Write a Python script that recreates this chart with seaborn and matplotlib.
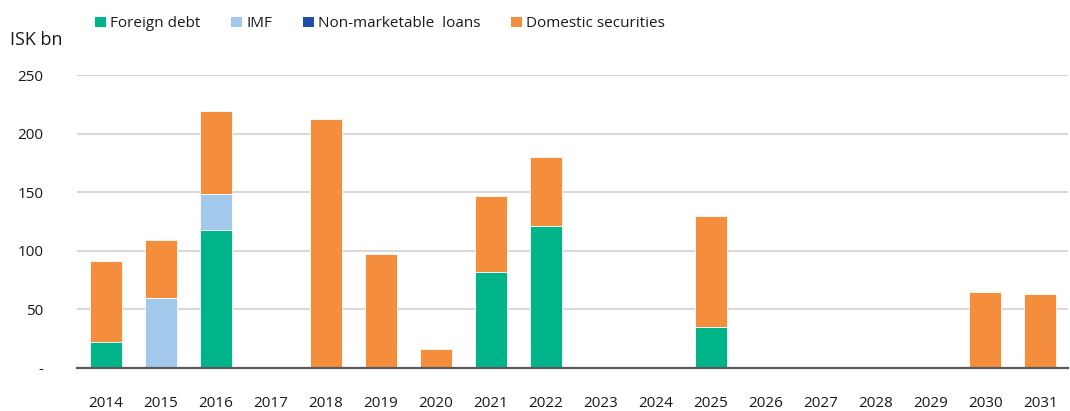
import matplotlib
matplotlib.use("Agg")
import matplotlib.pyplot as plt
from matplotlib.patches import Patch
import numpy as np
import pandas as pd
import seaborn as sns

years = ["2014", "2015", "2016", "2017", "2018", "2019", "2020", "2021", "2022",
         "2023", "2024", "2025", "2026", "2027", "2028", "2029", "2030", "2031"]
foreign_debt = [22.5, 0, 117.5, 0, 0, 0, 0, 82, 121, 0, 0, 35, 0, 0, 0, 0, 0, 0]
imf = [0, 60, 31, 0, 0, 0, 0, 0, 0, 0, 0, 0, 0, 0, 0, 0, 0, 0]
non_marketable_loans = [0] * 18
domestic_securities = [68.5, 49, 71, 0, 212.5, 97.5, 16, 64.5, 59, 0, 0, 94.5, 0, 0, 0, 0, 65, 63.5]

series_names = ["Foreign debt", "IMF", "Non-marketable  loans", "Domestic securities"]
series_values = [foreign_debt, imf, non_marketable_loans, domestic_securities]
colors = ["#00B48A", "#A2C8EB", "#1F4EA8", "#F48D3C"]

sns.set_theme(style="white")
plt.rcParams["font.family"] = ["Open Sans", "DejaVu Sans"]

fig = plt.figure(figsize=(10.7, 4.11), dpi=100)
ax = fig.add_axes([0.072, 0.105, 0.926, 0.712])

# stacked bars: draw cumulative totals from the top series down
df = pd.DataFrame({"year": years})
cum = np.zeros(len(years))
cums = []
for vals in series_values:
    cum = cum + np.array(vals, dtype=float)
    cums.append(cum.copy())
for name, c, col in reversed(list(zip(series_names, cums, colors))):
    df["v"] = c
    sns.barplot(data=df, x="year", y="v", order=years, color=col, width=0.58,
                saturation=1, edgecolor="white", linewidth=0.6, ax=ax, zorder=3)

ax.set_xlim(-0.53, 17.5)
ax.set_ylim(0, 250)
ax.set_yticks([0, 50, 100, 150, 200, 250])
ax.set_yticklabels(["-", "50", "100", "150", "200", "250"])
ax.set_xlabel("")
ax.set_ylabel("")
ax.tick_params(axis="both", length=0, labelsize=11, colors="#1a1a1a")
ax.tick_params(axis="y", pad=24)
ax.tick_params(axis="x", pad=20)
for lab in ax.get_yticklabels():
    lab.set_horizontalalignment("right")
ax.yaxis.grid(True, color="#d9d9d9", linewidth=1.5, zorder=0)
ax.set_axisbelow(True)
for s in ["left", "right", "top"]:
    ax.spines[s].set_visible(False)
ax.spines["bottom"].set_color("#5a5a5a")
ax.spines["bottom"].set_linewidth(1.6)
ax.spines["bottom"].set_zorder(5)

fig.text(0.009, 0.8905, "ISK bn", fontsize=13, color="#1a1a1a", va="baseline")

handles = [Patch(facecolor=c, edgecolor="none") for c in colors]
fig.legend(handles, series_names, loc="center left", bbox_to_anchor=(0.0757, 0.942),
           ncol=4, frameon=False, fontsize=11, handlelength=0.72, handleheight=0.72,
           handletextpad=0.28, columnspacing=2.0, labelcolor="#1a1a1a")

fig.savefig("out.png", dpi=100)
